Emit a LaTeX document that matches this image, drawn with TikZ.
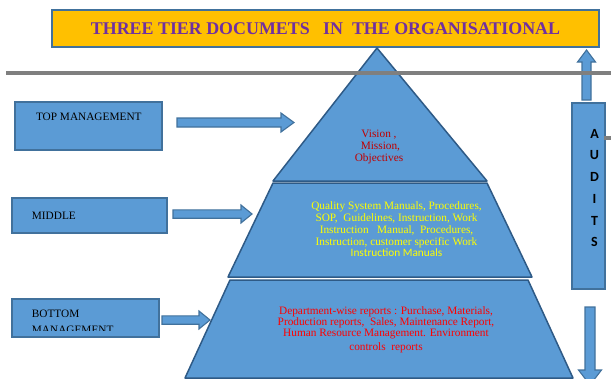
\documentclass[tikz,border=0pt]{standalone}
\usepackage{fontspec}
\setmainfont{Liberation Serif}
\newfontfamily\calib{Carlito}
\definecolor{shapeblue}{HTML}{5B9BD5}
\definecolor{edgeblue}{HTML}{41719C}
\definecolor{darkedge}{HTML}{2E5A86}
\definecolor{titlegold}{HTML}{FFC000}
\definecolor{titlepurple}{HTML}{7030A0}
\definecolor{linegray}{HTML}{7F7F7F}
\definecolor{toptext}{HTML}{C00000}
\definecolor{bottext}{HTML}{FF0000}
\definecolor{midtext}{HTML}{FFFF00}
\newcommand\harrow[6]{% x1 x2 y shafthalf headhalf headlen
  \filldraw[blockarrow] (#1,{#3-#4}) -- ({#2-#6},{#3-#4}) -- ({#2-#6},{#3-#5}) -- (#2,#3)
    -- ({#2-#6},{#3+#5}) -- ({#2-#6},{#3+#4}) -- (#1,{#3+#4}) -- cycle;}
\newcommand\varrow[6]{% x y1(tail) y2(tip) shafthalf headhalf headlen(signed)
  \filldraw[blockarrow] ({#1-#4},#2) -- ({#1-#4},{#3-#6}) -- ({#1-#5},{#3-#6}) -- (#1,#3)
    -- ({#1+#5},{#3-#6}) -- ({#1+#4},{#3-#6}) -- ({#1+#4},#2) -- cycle;}
\begin{document}
\begin{tikzpicture}[x=1pt,y=-1pt,
  blockarrow/.style={fill=shapeblue,draw=edgeblue,line width=1.1pt,line join=miter},
  labelbox/.style={fill=shapeblue,draw=edgeblue,line width=1.6pt},
  tier/.style={fill=shapeblue,draw=darkedge,line width=1.5pt,line join=round},
  lbl/.style={inner sep=0pt,font=\fontsize{11.3}{13}\selectfont},
  audit/.style={inner sep=0pt,font=\calib\bfseries\fontsize{14}{14}\selectfont}]
\useasboundingbox (0,0) rectangle (611,378);

% title
\node[draw=edgeblue,fill=titlegold,line width=2pt,minimum width=547pt,minimum height=37pt,inner sep=0pt] (title) at (325.5,28.5) {};
\node[text=titlepurple,inner sep=0pt,font=\bfseries\fontsize{17.9}{18}\selectfont] (titletext) at (325.5,29) {THREE TIER DOCUMETS\ \ \ IN\ \ THE ORGANISATIONAL};

% pyramid
\filldraw[tier] (273,181) -- (377,48) -- (487,181) -- cycle;
\filldraw[tier] (273,183) -- (487,183) -- (532,277) -- (228,277) -- cycle;
\filldraw[tier] (230,280) -- (528,280) -- (573,378) -- (185,378) -- cycle;

% pyramid texts
\node[inner sep=0pt,align=center,text=toptext,font=\fontsize{11.3}{12.2}\selectfont] (vision) at (379,147) {Vision ,\\ \ Mission,\\Objectives};
\node[inner sep=0pt,align=center,text=midtext,font=\fontsize{11.3}{11.7}\selectfont] (middletext) at (396.5,229.5)
  {Quality System Manuals, Procedures,\\SOP,\ \ Guidelines, Instruction, Work\\Instruction\ \ \ Manual,\ \ Procedures,\\Instruction, customer specific Work\\{\calib Instruction Manuals}};
\node[inner sep=0pt,align=center,text=bottext,font=\fontsize{11.3}{11.3}\selectfont] (bottomtext) at (386,329.5)
  {Department-wise reports : Purchase, Materials,\\Production reports,\ \ Sales, Maintenance Report,\\Human Resource Management. Environment\\[2pt]controls\ \ reports};

% left label boxes
\filldraw[labelbox] (15,102) rectangle (162,150);
\node[lbl] (toplabel) at (88.8,117) {TOP MANAGEMENT};
\filldraw[labelbox] (12,198) rectangle (167,233);
\node[lbl,anchor=west] (midlabel) at (31.7,216) {MIDDLE};
\filldraw[labelbox] (12,299) rectangle (159,337);
\node[lbl,anchor=west] (botlabel) at (31.7,314) {BOTTOM};
\begin{scope}
  \clip (0,0) rectangle (611,330.5);
  \node[lbl,anchor=west] (botlabel2) at (31.7,329.5) {MANAGEMENT};
\end{scope}

% horizontal arrows
\harrow{177}{294}{122.5}{4.5}{9.5}{13}
\harrow{173}{252}{214}{4.2}{9}{11}
\harrow{162}{210}{320}{4.2}{9}{11}

% audits
\filldraw[labelbox,line width=1.3pt] (572,103) rectangle (605,289);
\foreach \l/\yy in {A/134,U/155.5,D/177,I/199,T/220.5,S/242}
  \node[audit] at (594.5,\yy) {\l};
\varrow{586.5}{100}{50}{4.5}{9}{-12}
\varrow{590}{307}{385}{5}{11.5}{15}

% gray lines
\draw[linegray,line width=4pt] (6,73) -- (611,73);
\draw[linegray,line width=4pt] (604,137.5) -- (611,137.5);
\end{tikzpicture}
\end{document}
